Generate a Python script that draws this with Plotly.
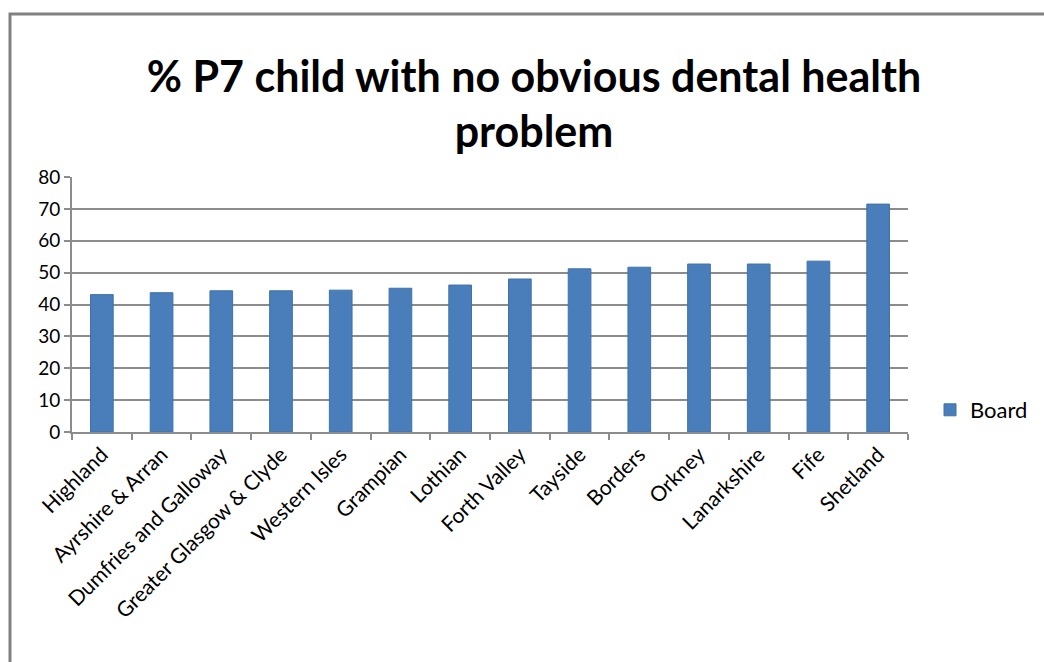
import plotly.graph_objects as go

categories = ["Highland", "Ayrshire & Arran", "Dumfries and Galloway", "Greater Glasgow & Clyde",
              "Western Isles", "Grampian", "Lothian", "Forth Valley", "Tayside", "Borders",
              "Orkney", "Lanarkshire", "Fife", "Shetland"]
board_values = [43.1, 43.7, 44.3, 44.3, 44.5, 45.1, 46.1, 48.0, 51.2, 51.7, 52.7, 52.7, 53.6, 71.5]
y_ticks = [0, 10, 20, 30, 40, 50, 60, 70, 80]

W, H = 1044, 662
L, R, T, B = 72, 908, 177, 432

fig = go.Figure()
fig.add_trace(go.Bar(
    x=categories, y=board_values, name="Board",
    marker=dict(color="#4A7EBB", line=dict(color="#3F72AD", width=1)),
))

fig.update_layout(
    width=W, height=H,
    margin=dict(l=L, r=W - R, t=T, b=H - B, pad=0, autoexpand=False),
    paper_bgcolor="white", plot_bgcolor="white",
    bargap=0.62,
    font=dict(family="Lato, Open Sans, sans-serif", color="#000000"),
    title=dict(
        text="<b>% P7 child with no obvious dental health<br>problem</b>",
        x=534 / W, xanchor="center", y=1 - 91.5 / H, yanchor="middle",
        font=dict(size=43, family="Lato, Open Sans, sans-serif", color="#000"),
    ),
    showlegend=True,
    legend=dict(x=(930 - L) / (R - L), y=(B - 410) / (B - T), xanchor="left", yanchor="middle",
                font=dict(size=22, color="#000"), bgcolor="rgba(0,0,0,0)"),
    xaxis=dict(
        type="category", tickangle=-45, tickfont=dict(size=21, color="#000"),
        showline=True, linecolor="#8C8C8C", linewidth=2, automargin=False,
        ticks="outside", tickson="boundaries", ticklen=6, tickcolor="#8C8C8C", tickwidth=2,
        showgrid=False,
    ),
    yaxis=dict(
        range=[0, 80], tickvals=y_ticks, tickfont=dict(size=19, color="#000"),
        showline=True, linecolor="#8C8C8C", linewidth=2, automargin=False,
        ticks="outside", ticklen=6, tickcolor="#8C8C8C", tickwidth=2,
        showgrid=True, gridcolor="#8C8C8C", gridwidth=2, zeroline=False,
    ),
    shapes=[dict(
        type="rect", xref="paper", yref="paper",
        x0=(10 - L) / (R - L), x1=(1060 - L) / (R - L),
        y0=(B - 680) / (B - T), y1=(B - 14) / (B - T),
        line=dict(color="#808080", width=3), fillcolor="rgba(0,0,0,0)", layer="below",
    )],
)

fig.write_html("out.html", config={"displayModeBar": False},
               post_script="document.body.style.margin='0';document.body.style.padding='0';")
